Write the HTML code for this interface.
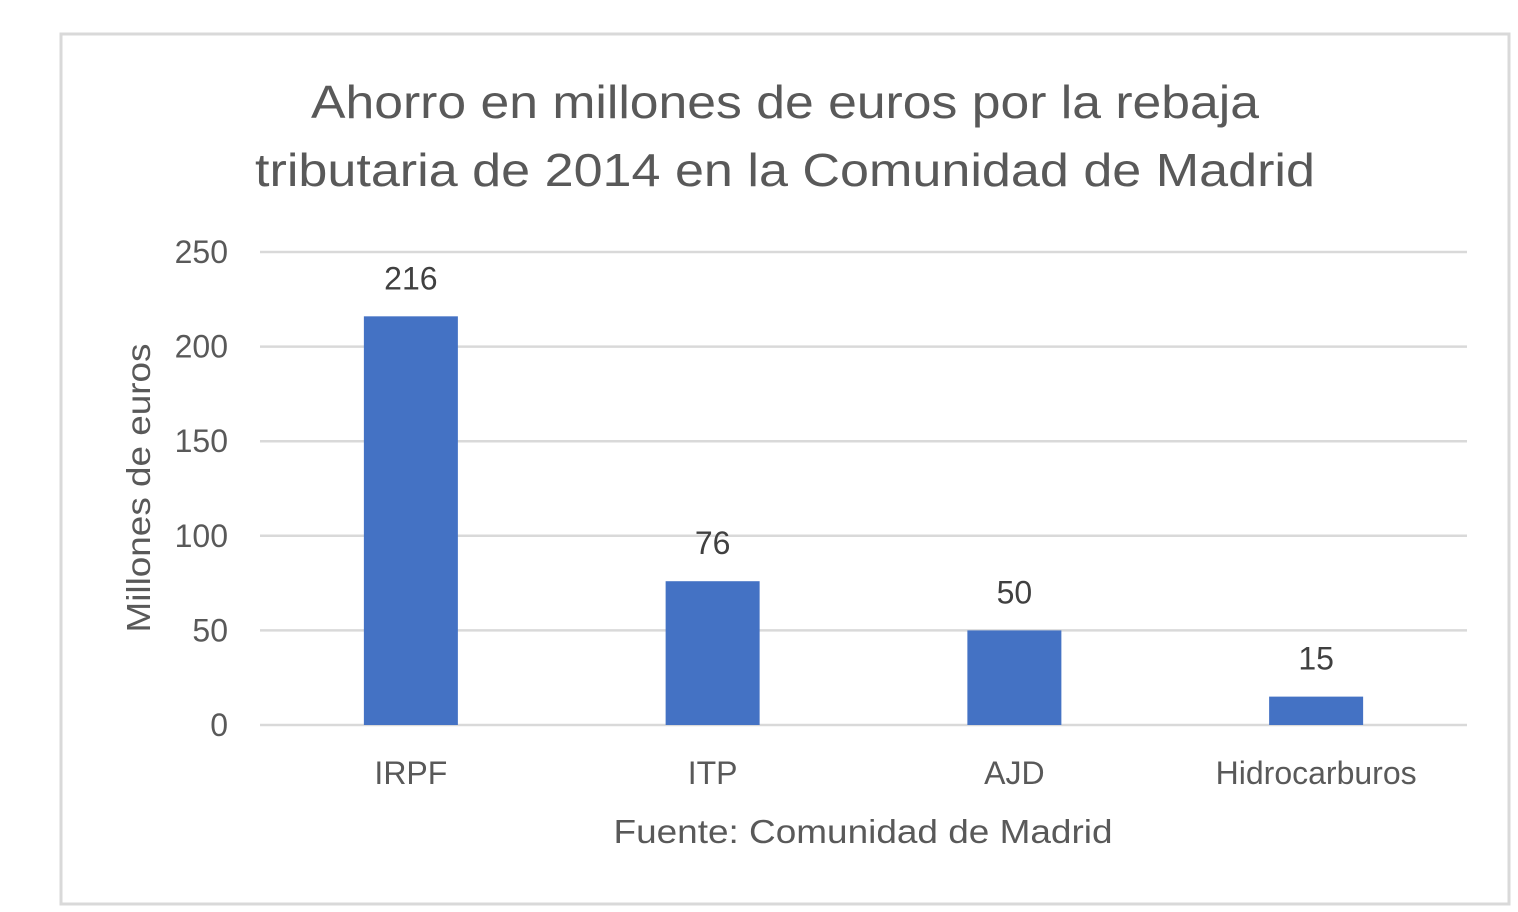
<!DOCTYPE html>
<html><head><meta charset="utf-8"><style>
html,body{margin:0;padding:0;background:#fff;}
svg{display:block;font-family:"Liberation Sans",sans-serif;}
</style></head><body>
<svg id="chart" width="1518" height="912" viewBox="0 0 1518 912">
<rect x="61" y="34" width="1448" height="870" fill="#fff" stroke="#d9d9d9" stroke-width="3"/>
<text x="785" y="118" text-anchor="middle" font-size="46" fill="#595959" textLength="948" lengthAdjust="spacingAndGlyphs">Ahorro en millones de euros por la rebaja</text>
<text x="785" y="186" text-anchor="middle" font-size="46" fill="#595959" textLength="1060" lengthAdjust="spacingAndGlyphs">tributaria de 2014 en la Comunidad de Madrid</text>
<text transform="translate(150,488) rotate(-90)" text-anchor="middle" font-size="33" fill="#595959" textLength="289" lengthAdjust="spacingAndGlyphs">Millones de euros</text>
<text x="863" y="843" text-anchor="middle" font-size="33" fill="#595959" textLength="499" lengthAdjust="spacingAndGlyphs">Fuente: Comunidad de Madrid</text>
<g id="grid"></g><g id="bars"></g>
</svg>
<script>
const categories = ["IRPF","ITP","AJD","Hidrocarburos"];
const values = [216,76,50,15];
const ticks = [0,50,100,150,200,250];
const NS="http://www.w3.org/2000/svg";
const x0=260,x1=1467,yb=725,yt=252,vmax=250;
const y=v=>yb-(v/vmax)*(yb-yt);
const bw=(x1-x0)/categories.length;
const xc=i=>x0+bw*(i+0.5);
const grid=document.getElementById('grid'),bars=document.getElementById('bars');
function mk(t,a,p){const e=document.createElementNS(NS,t);for(const k in a)e.setAttribute(k,a[k]);p.appendChild(e);return e;}
ticks.forEach(t=>{
  const l=mk('line',{x1:x0,x2:x1,y1:y(t),y2:y(t),stroke:'#d9d9d9','stroke-width':2.5},grid);
  
  
  const tx=mk('text',{x:228,y:y(t)+11,'text-anchor':'end','font-size':32,fill:'#595959'},grid);
  tx.textContent=t;
  
  
});
categories.forEach((c,i)=>{
  const r=mk('rect',{x:xc(i)-47,y:y(values[i]),width:94,height:yb-y(values[i]),fill:'#4472c4'},bars);
  
  
  const lb=mk('text',{x:xc(i),y:y(values[i])-27,'text-anchor':'middle','font-size':32,fill:'#404040'},bars);
  lb.textContent=values[i];
  
  
  const cl=mk('text',{x:xc(i),y:784,'text-anchor':'middle','font-size':32,fill:'#595959'},bars);
  cl.textContent=c;
  
  
});
</script>
</body></html>
